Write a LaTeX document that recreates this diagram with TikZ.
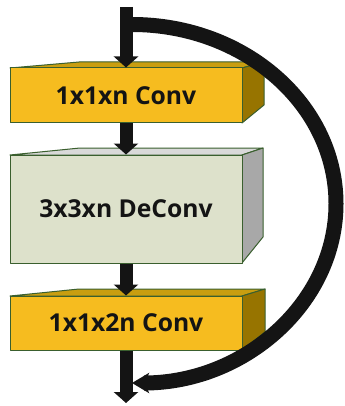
\documentclass[tikz,border=0pt]{standalone}
\usepackage{fontspec}
\newfontfamily\labelfont{Open Sans}
\usetikzlibrary{arrows.meta}

\definecolor{convfront}{RGB}{246,188,31}
\definecolor{convtop}{RGB}{201,158,16}
\definecolor{convside}{RGB}{151,116,0}
\definecolor{decfront}{RGB}{221,225,203}
\definecolor{dectop}{RGB}{217,217,217}
\definecolor{decside}{RGB}{168,168,168}
\definecolor{edgegreen}{RGB}{58,95,46}
\definecolor{ink}{RGB}{20,20,20}

\tikzset{every picture/.style={line width=0.75pt}}
\tikzset{
  face/.style={draw=edgegreen, line width=0.75pt, line join=round},
  frontface/.style={face, rectangle, inner sep=0pt, minimum width=174pt,
    font=\labelfont\bfseries\fontsize{18.5}{22}\selectfont, text=ink},
  flow/.style={draw=ink, line width=9.75pt, -{Triangle[width=18pt, length=8.25pt]}},
  skip/.style={draw=ink, line width=11.25pt, -{Stealth[width=15pt, length=12.75pt, inset=3pt]}}
}

\begin{document}
\begin{tikzpicture}[x=0.75pt,y=0.75pt,yscale=-1,xscale=1]
\useasboundingbox (0,0) rectangle (345,406);

%Shape: Box 1x1xn
\draw [face, fill=convtop] (10,68) -- (79,62) -- (264,62) -- (242,68) -- cycle ;
\draw [face, fill=convside] (242,68) -- (264,62) -- (264,105) -- (242,123) -- cycle ;
\node [frontface, fill=convfront, minimum height=41.25pt] (conv1) at (126,95.5) {1x1xn Conv};

%Shape: Box 3x3xn
\draw [face, fill=dectop] (10,155) -- (80,148) -- (263,148) -- (242,155) -- cycle ;
\draw [face, fill=decside] (242,155) -- (263,148) -- (263,237) -- (242,263) -- cycle ;
\node [frontface, fill=decfront, minimum height=81pt] (deconv) at (126,209) {3x3xn DeConv};

%Shape: Box 1x1x2n
\draw [face, fill=convtop] (10,296) -- (79,289) -- (265,289) -- (242,296) -- cycle ;
\draw [face, fill=convside] (242,296) -- (265,289) -- (265,332) -- (242,350) -- cycle ;
\node [frontface, fill=convfront, minimum height=40.5pt] (conv2) at (126,323) {1x1x2n Conv};

%Straight Lines
\coordinate (in) at (126,7);
\coordinate (out) at (126,403);
\draw [flow] (in) -- (conv1.north);
\draw [flow] (conv1.south) -- (deconv.north);
\draw [flow] (deconv.south) -- (conv2.north);
\draw [flow] (conv2.south) -- (out);

%Curve Lines
\coordinate (skipstart) at (132,24.5);
\draw [skip] (skipstart) arc (-90:90:204 and 179.25);

\end{tikzpicture}
\end{document}
